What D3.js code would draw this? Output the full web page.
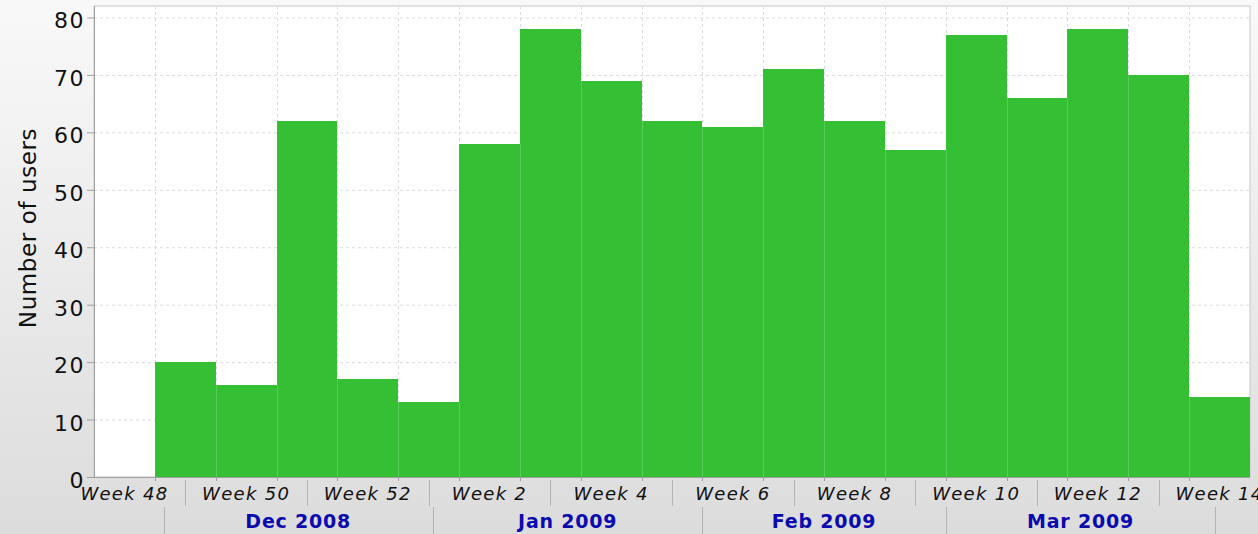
<!DOCTYPE html>
<html>
<head>
<meta charset="utf-8">
<script src="https://cdn.jsdelivr.net/npm/d3@7"></script>
<style>
  html, body { margin: 0; padding: 0; overflow: hidden; }
  svg { display: block; font-family: "DejaVu Sans", sans-serif; }
</style>
</head>
<body>
<svg width="1258" height="534"></svg>
<script>
// weekly data (weeks start on sunday)
const weekStarts = [
  "2008-11-30", "2008-12-07", "2008-12-14", "2008-12-21", "2008-12-28",
  "2009-01-04", "2009-01-11", "2009-01-18", "2009-01-25", "2009-02-01",
  "2009-02-08", "2009-02-15", "2009-02-22", "2009-03-01", "2009-03-08",
  "2009-03-15", "2009-03-22", "2009-03-29",
];
const users = [20, 16, 62, 17, 13, 58, 78, 69, 62, 61, 71, 62, 57, 77, 66, 78, 70, 14];

const weekLabels = [
  "Week 48", "Week 50", "Week 52", "Week 2", "Week 4",
  "Week 6", "Week 8", "Week 10", "Week 12", "Week 14",
];
const firstLabelWeek = "2008-11-23";
const monthLabels = ["Dec 2008", "Jan 2009", "Feb 2009", "Mar 2009"];
const monthStarts = ["2008-12-01", "2009-01-01", "2009-02-01", "2009-03-01", "2009-04-01"];
const yTicks = [0, 10, 20, 30, 40, 50, 60, 70, 80];
const xRange = ["2008-11-23", "2009-04-05"];

const parse = d3.timeParse("%Y-%m-%d");
const svg = d3.select("svg");

const dimensions = {
  width: 1258,
  height: 534,
  margin: { top: 6, right: 8, bottom: 57, left: 94 },
};
dimensions.boundedWidth = dimensions.width - dimensions.margin.left - dimensions.margin.right;
dimensions.boundedHeight = dimensions.height - dimensions.margin.top - dimensions.margin.bottom;

const xScale = d3.scaleTime()
  .domain(xRange.map(parse))
  .range([0, dimensions.boundedWidth]);
const yScale = d3.scaleLinear()
  .domain([0, 82])
  .range([dimensions.boundedHeight, 0]);

// background gradient
const defs = svg.append("defs");
const grad = defs.append("linearGradient")
  .attr("id", "bg").attr("x1", 0).attr("y1", 0).attr("x2", 0).attr("y2", 1);
grad.append("stop").attr("offset", "0%").attr("stop-color", "#f9f9f9");
grad.append("stop").attr("offset", "100%").attr("stop-color", "#dcdcdc");
svg.append("rect")
  .attr("width", dimensions.width).attr("height", dimensions.height)
  .attr("fill", "url(#bg)");

const bounds = svg.append("g")
  .attr("transform", `translate(${dimensions.margin.left},${dimensions.margin.top})`);

bounds.append("rect")
  .attr("width", dimensions.boundedWidth)
  .attr("height", dimensions.boundedHeight)
  .attr("fill", "white")
  .attr("stroke", "#c8c8c8");

const weeks = d3.timeWeek.range(xScale.domain()[0], xScale.domain()[1]);

// gridlines
bounds.append("g")
  .selectAll("line")
  .data(yTicks.slice(1))
  .join("line")
  .attr("x1", 0).attr("x2", dimensions.boundedWidth)
  .attr("y1", (d) => yScale(d) + 0.5).attr("y2", (d) => yScale(d) + 0.5)
  .attr("stroke", "#dcdcdc")
  .attr("stroke-dasharray", "3,3");

bounds.append("g")
  .selectAll("line")
  .data(weeks.slice(1))
  .join("line")
  .attr("x1", (d) => Math.round(xScale(d)) + 0.5).attr("x2", (d) => Math.round(xScale(d)) + 0.5)
  .attr("y1", 0).attr("y2", dimensions.boundedHeight)
  .attr("stroke", "#dcdcdc")
  .attr("stroke-dasharray", "3,3");

// bars
const data = weekStarts.map((d, i) => ({ start: parse(d), value: users[i] }));
bounds.append("g")
  .selectAll("rect")
  .data(data)
  .join("rect")
  .attr("x", (d) => xScale(d.start))
  .attr("width", (d) => xScale(d3.timeWeek.offset(d.start, 1)) - xScale(d.start))
  .attr("y", (d) => yScale(d.value))
  .attr("height", (d) => yScale(0) - yScale(d.value))
  .attr("fill", "#34bf34")
  .attr("shape-rendering", "crispEdges");

// light lines showing through the bars
bounds.append("g")
  .selectAll("line")
  .data(data.slice(1))
  .join("line")
  .attr("x1", (d) => Math.round(xScale(d.start)) + 0.5).attr("x2", (d) => Math.round(xScale(d.start)) + 0.5)
  .attr("y1", (d, i) => yScale(Math.min(d.value, data[i].value)))
  .attr("y2", dimensions.boundedHeight)
  .attr("stroke", "white")
  .attr("stroke-opacity", 0.18);

// axis lines
bounds.append("line")
  .attr("x1", 0.5).attr("x2", 0.5).attr("y1", 0).attr("y2", dimensions.boundedHeight)
  .attr("stroke", "#a0a0a0");
bounds.append("line")
  .attr("x1", 0).attr("x2", dimensions.boundedWidth)
  .attr("y1", dimensions.boundedHeight + 0.5).attr("y2", dimensions.boundedHeight + 0.5)
  .attr("stroke", "#a0a0a0");

// y axis
const yAxis = bounds.append("g");
yAxis.selectAll("line")
  .data(yTicks)
  .join("line")
  .attr("x1", -7).attr("x2", 0)
  .attr("y1", (d) => yScale(d) + 0.5).attr("y2", (d) => yScale(d) + 0.5)
  .attr("stroke", "#a0a0a0");
yAxis.selectAll("text")
  .data(yTicks)
  .join("text")
  .attr("x", -9)
  .attr("y", (d) => yScale(d) + 11)
  .attr("text-anchor", "end")
  .attr("font-size", 22)
  .attr("letter-spacing", 1.5)
  .attr("fill", "#111")
  .text((d) => d);

svg.append("text")
  .attr("transform", `translate(36, ${dimensions.margin.top + 222}) rotate(-90)`)
  .attr("text-anchor", "middle")
  .attr("font-size", 23)
  .attr("letter-spacing", 0.6)
  .attr("fill", "#111")
  .text("Number of users");

// x axis: week row
const xAxis = bounds.append("g")
  .attr("transform", `translate(0, ${dimensions.boundedHeight})`);

xAxis.selectAll(".wtick")
  .data(weeks.slice(1))
  .join("line")
  .attr("class", "wtick")
  .attr("x1", (d) => Math.round(xScale(d)) + 0.5).attr("x2", (d) => Math.round(xScale(d)) + 0.5)
  .attr("y1", 0).attr("y2", 4)
  .attr("stroke", "#a0a0a0");

const labelCenters = weekLabels.map((d, i) =>
  d3.timeHour.offset(d3.timeWeek.offset(parse(firstLabelWeek), 2 * i), 84)
);

xAxis.selectAll(".wsep")
  .data(labelCenters.slice(0, -1))
  .join("line")
  .attr("class", "wsep")
  .attr("x1", (d) => Math.round(xScale(d3.timeDay.offset(d, 7))) + 0.5)
  .attr("x2", (d) => Math.round(xScale(d3.timeDay.offset(d, 7))) + 0.5)
  .attr("y1", 3).attr("y2", 29)
  .attr("stroke", "#b4b4b4");

xAxis.selectAll(".wlabel")
  .data(weekLabels)
  .join("text")
  .attr("class", "wlabel")
  .attr("x", (d, i) => xScale(labelCenters[i]))
  .attr("y", 23)
  .attr("text-anchor", "middle")
  .attr("font-size", 18)
  .attr("font-style", "italic")
  .attr("letter-spacing", 1.3)
  .attr("fill", "#111")
  .text((d) => d);

// x axis: month row
const months = monthStarts.map(parse);
xAxis.selectAll(".msep")
  .data(months)
  .join("line")
  .attr("class", "msep")
  .attr("x1", (d) => Math.round(xScale(d)) + 0.5).attr("x2", (d) => Math.round(xScale(d)) + 0.5)
  .attr("y1", 30).attr("y2", 57)
  .attr("stroke", "#b4b4b4");

xAxis.selectAll(".mlabel")
  .data(monthLabels)
  .join("text")
  .attr("class", "mlabel")
  .attr("x", (d, i) => (xScale(months[i]) + xScale(months[i + 1])) / 2)
  .attr("y", 51)
  .attr("text-anchor", "middle")
  .attr("font-size", 19)
  .attr("font-weight", "bold")
  .attr("letter-spacing", 0.8)
  .attr("fill", "#0a0ab0")
  .text((d) => d);
</script>
</body>
</html>
